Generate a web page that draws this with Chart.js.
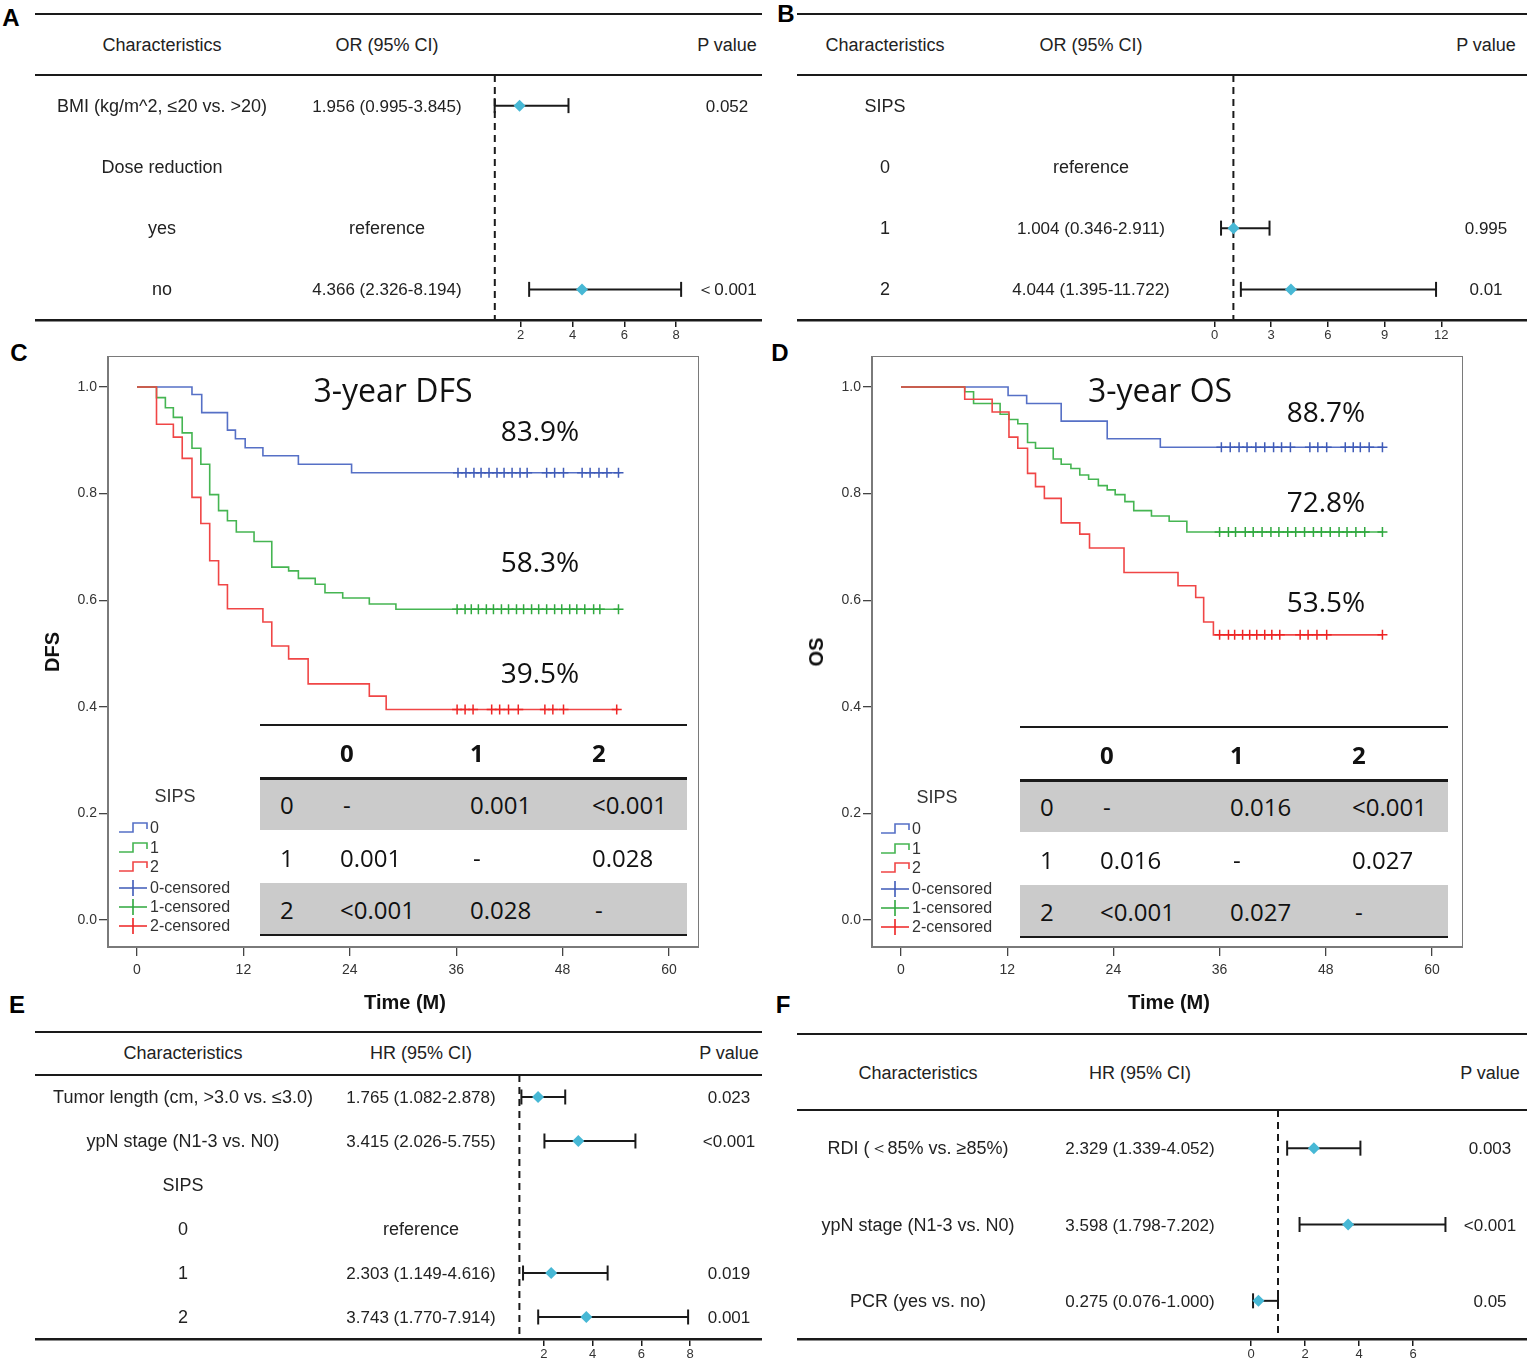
<!DOCTYPE html>
<html>
<head>
<meta charset="utf-8">
<script src="https://cdn.jsdelivr.net/npm/chart.js@4.4.1/dist/chart.umd.min.js"></script>
<style>
  html, body { margin: 0; padding: 0; background: #fff; }
  #root { position: relative; width: 1536px; height: 1367px; overflow: hidden; background: #fff;
          font-family: "Liberation Sans", Arial, sans-serif; color: #222; }
  .t { position: absolute; white-space: nowrap; line-height: 1; }
  .box { position: absolute; }
</style>
</head>
<body>
<div id="root"></div>
<script>
// ====================== DATA ======================
// Panel A (logistic regression, OR)
const aRowLabels = ["BMI (kg/m^2, \u226420 vs. >20)", "Dose reduction", "yes", "no"];
const aEstText   = ["1.956 (0.995-3.845)", "", "reference", "4.366 (2.326-8.194)"];
const aPText     = ["0.052", "", "", "\uFF1C0.001"];
const aEst = [1.956, null, null, 4.366];
const aLo  = [0.995, null, null, 2.326];
const aHi  = [3.845, null, null, 8.194];
const aTicks = [2, 4, 6, 8];

// Panel B
const bRowLabels = ["SIPS", "0", "1", "2"];
const bEstText   = ["", "reference", "1.004 (0.346-2.911)", "4.044 (1.395-11.722)"];
const bPText     = ["", "", "0.995", "0.01"];
const bEst = [null, null, 1.004, 4.044];
const bLo  = [null, null, 0.346, 1.395];
const bHi  = [null, null, 2.911, 11.722];
const bTicks = [0, 3, 6, 9, 12];

// Panel E (Cox, HR for DFS)
const eRowLabels = ["Tumor length (cm, >3.0 vs. \u22643.0)", "ypN stage (N1-3 vs. N0)", "SIPS", "0", "1", "2"];
const eEstText   = ["1.765 (1.082-2.878)", "3.415 (2.026-5.755)", "", "reference", "2.303 (1.149-4.616)", "3.743 (1.770-7.914)"];
const ePText     = ["0.023", "<0.001", "", "", "0.019", "0.001"];
const eEst = [1.765, 3.415, null, null, 2.303, 3.743];
const eLo  = [1.082, 2.026, null, null, 1.149, 1.770];
const eHi  = [2.878, 5.755, null, null, 4.616, 7.914];
const eTicks = [2, 4, 6, 8];

// Panel F (Cox, HR for OS)
const fRowLabels = ["RDI (\uFF1C85% vs. \u226585%)", "ypN stage (N1-3 vs. N0)", "PCR (yes vs. no)"];
const fEstText   = ["2.329 (1.339-4.052)", "3.598 (1.798-7.202)", "0.275 (0.076-1.000)"];
const fPText     = ["0.003", "<0.001", "0.05"];
const fEst = [2.329, 3.598, 0.275];
const fLo  = [1.339, 1.798, 0.076];
const fHi  = [4.052, 7.202, 1.000];
const fTicks = [0, 2, 4, 6];

// Panel C: DFS Kaplan-Meier by SIPS (months, survival)
const dfsMonths0 = [0, 6.2, 7.3, 10.2, 11.1, 12.2, 14.2, 18.2, 24.2, 54.5];
const dfsSurv0   = [1, 0.986, 0.952, 0.919, 0.903, 0.886, 0.871, 0.855, 0.839, 0.839];
const dfsCens0   = [36.2, 37.1, 38.0, 38.8, 39.7, 40.6, 41.4, 42.3, 43.2, 44.0, 46.2, 47.1, 48.1, 50.2, 51.1, 52.1, 53.0, 54.3];
const dfsMonths1 = [0, 2.2, 3.2, 4.1, 5.1, 6.2, 7.2, 8.2, 9.2, 10.2, 11.2, 13.2, 15.2, 17.1, 18.2, 20.1, 21.2, 23.2, 26.2, 29.2, 54.3];
const dfsSurv1   = [1, 0.980, 0.961, 0.943, 0.914, 0.885, 0.855, 0.798, 0.768, 0.749, 0.728, 0.710, 0.662, 0.655, 0.641, 0.630, 0.614, 0.604, 0.593, 0.583, 0.583];
const dfsCens1   = [36.1, 37.0, 37.7, 38.5, 39.4, 40.2, 41.1, 41.9, 42.8, 43.6, 44.5, 45.3, 46.2, 47.1, 47.9, 48.8, 49.6, 50.5, 51.5, 52.2, 54.3];
const dfsMonths2 = [0, 2.2, 4.1, 5.1, 6.2, 7.2, 8.2, 9.2, 10.2, 14.2, 15.2, 17.1, 19.3, 26.2, 28.1, 54.3];
const dfsSurv2   = [1, 0.930, 0.906, 0.866, 0.793, 0.744, 0.674, 0.629, 0.584, 0.559, 0.514, 0.490, 0.443, 0.420, 0.395, 0.395];
const dfsCens2   = [36.1, 37.0, 37.9, 40.0, 40.9, 41.9, 43.0, 46.0, 46.9, 48.1, 54.1];
const dfsPairP = [["-", "0.001", "<0.001"], ["0.001", "-", "0.028"], ["<0.001", "0.028", "-"]];

// Panel D: OS Kaplan-Meier by SIPS
const osMonths0 = [0, 12.1, 14.2, 18.1, 23.3, 29.3, 54.5];
const osSurv0   = [1, 0.984, 0.969, 0.936, 0.903, 0.887, 0.887];
const osCens0   = [36.2, 37.2, 38.2, 39.1, 40.1, 41.1, 42.1, 43.0, 44.0, 46.2, 47.1, 48.1, 50.2, 51.1, 51.9, 52.9, 54.4];
const osMonths1 = [0, 7.2, 8.2, 11.2, 12.2, 13.2, 14.3, 15.2, 17.2, 18.1, 19.2, 20.2, 21.2, 22.3, 23.3, 24.2, 25.3, 26.3, 28.3, 30.3, 32.3, 54.4];
const osSurv1   = [1, 0.991, 0.969, 0.949, 0.939, 0.931, 0.896, 0.885, 0.865, 0.855, 0.847, 0.835, 0.827, 0.815, 0.807, 0.798, 0.785, 0.768, 0.758, 0.748, 0.728, 0.728];
const osCens1   = [36.0, 37.0, 37.8, 38.9, 39.8, 40.8, 41.8, 42.7, 43.7, 44.6, 45.6, 46.6, 47.5, 48.5, 49.5, 50.4, 51.4, 52.4, 54.4];
const osMonths2 = [0, 7.2, 10.3, 12.2, 13.2, 14.3, 15.2, 16.2, 18.1, 20.2, 21.3, 25.2, 31.3, 33.3, 34.2, 35.3, 54.4];
const osSurv2   = [1, 0.977, 0.953, 0.906, 0.885, 0.838, 0.813, 0.791, 0.745, 0.724, 0.698, 0.652, 0.627, 0.605, 0.559, 0.535, 0.535];
const osCens2   = [36.0, 37.0, 37.7, 38.6, 39.4, 40.2, 41.1, 41.9, 42.8, 45.1, 46.0, 47.0, 48.1, 54.4];
const osPairP = [["-", "0.016", "<0.001"], ["0.016", "-", "0.027"], ["<0.001", "0.027", "-"]];

const sipsGroups = ["0", "1", "2"];
const kmXTicks = [0, 12, 24, 36, 48, 60];
const kmYTicks = [0, 0.2, 0.4, 0.6, 0.8, 1.0];

// ====================== STYLE / LAYOUT ======================
const SANS = '"Liberation Sans", Arial, sans-serif';
const KMFONT = '"Open Sans", "Noto Sans", sans-serif';
const INK = '#1a1a1a';
const DIAMOND = '#47b8d5';
const LINE_COL = ['#5670c6', '#45b552', '#f04646'];
const MARK_COL = ['#3f5bb8', '#2fa83e', '#ee2424'];
const root = document.getElementById('root');

function text(txt, x, y, opt = {}) {
  const d = document.createElement('div');
  d.className = 't';
  d.textContent = txt;
  d.style.left = x + 'px';
  d.style.top = y + 'px';
  const al = opt.align || 'c';
  const tx = al === 'c' ? '-50%' : (al === 'r' ? '-100%' : '0');
  d.style.transform = `translate(${tx},-50%)` + (opt.rot ? ` rotate(${opt.rot}deg)` : '');
  d.style.fontSize = (opt.size || 17) + 'px';
  d.style.fontFamily = opt.family || SANS;
  d.style.fontWeight = opt.bold ? 'bold' : 'normal';
  d.style.color = opt.color || '#222';
  d.style.zIndex = 5;
  root.appendChild(d);
  return d;
}
function rect(x, y, w, h, color, z = 4) {
  const d = document.createElement('div');
  d.className = 'box';
  Object.assign(d.style, { left: x + 'px', top: y + 'px', width: w + 'px', height: h + 'px', background: color, zIndex: z });
  root.appendChild(d);
  return d;
}
function hRule(x1, x2, y, w = 2.5) { return rect(x1, y - w / 2, x2 - x1, w, INK); }
function makeCanvas(x, y, w, h) {
  const d = document.createElement('div');
  d.className = 'box';
  Object.assign(d.style, { left: x + 'px', top: y + 'px', width: w + 'px', height: h + 'px', zIndex: 1 });
  const c = document.createElement('canvas');
  c.width = w; c.height = h;
  c.style.width = w + 'px'; c.style.height = h + 'px';
  d.appendChild(c);
  root.appendChild(d);
  return c;
}

// ---------- Forest plot ----------
function forest(o) {
  const n = o.labels.length;
  const rowY = i => i + 0.5;
  text(o.head[0], o.cols[0], o.headY, { size: 18 });
  text(o.head[1], o.cols[1], o.headY, { size: 18 });
  text(o.head[2], o.cols[2], o.headY, { size: 18 });
  const rowH = o.plotH / n;
  o.labels.forEach((lab, i) => {
    const y = o.top + rowH * (i + 0.5);
    if (lab) text(lab, o.cols[0], y, { size: 18 });
    if (o.estText[i]) text(o.estText[i], o.cols[1], y, { size: o.estText[i] === 'reference' ? 18 : 17 });
    if (o.pText[i]) text(o.pText[i], o.cols[2], y, { size: 17 });
  });
  hRule(o.left, o.left + o.width, o.topRule);
  hRule(o.left, o.left + o.width, o.top);

  const datasets = [];
  const pts = [];
  o.est.forEach((v, i) => { if (v != null) pts.push({ x: v, y: rowY(i) }); });
  datasets.push({ data: pts, showLine: false, pointStyle: 'rectRot', pointRadius: 6,
    pointBackgroundColor: DIAMOND, pointBorderColor: DIAMOND, pointBorderWidth: 0, order: 0, clip: false });
  o.est.forEach((v, i) => {
    if (v == null) return;
    datasets.push({ data: [{ x: o.lo[i], y: rowY(i) }, { x: o.hi[i], y: rowY(i) }], showLine: true,
      borderColor: INK, borderWidth: 2, pointStyle: 'line', pointRotation: 90, pointRadius: 7.5,
      pointBorderColor: INK, pointBorderWidth: 2, order: 1, clip: false });
  });
  datasets.push({ data: [{ x: 1, y: 0 }, { x: 1, y: n }], showLine: true, borderColor: INK, borderWidth: 2,
    borderDash: [7, 5], pointRadius: 0, order: 2, clip: false });

  const axisH = 30;
  const cv = makeCanvas(o.left, o.top, o.width, o.plotH + axisH);
  new Chart(cv, {
    type: 'scatter',
    data: { datasets },
    options: {
      responsive: false, animation: false, events: [],
      layout: { padding: 0, autoPadding: false },
      plugins: { legend: { display: false }, tooltip: { enabled: false } },
      scales: {
        x: { type: 'linear', position: 'bottom', min: o.min, max: o.max,
          afterBuildTicks: s => { s.ticks = o.ticks.map(v => ({ value: v })); },
          afterFit: s => { s.height = axisH; s.paddingLeft = 0; s.paddingRight = 0; },
          border: { display: true, color: INK, width: 2.5 },
          grid: { drawOnChartArea: false, drawTicks: true, tickLength: 7, color: INK, lineWidth: 1.5 },
          ticks: { font: { family: SANS, size: 13 }, color: '#333', padding: 1, maxRotation: 0, autoSkip: false } },
        y: { type: 'linear', min: 0, max: n, reverse: true, display: false }
      }
    }
  });
}

// ---------- Kaplan-Meier ----------
const boxPlugin = {
  id: 'kmBox',
  afterDraw(chart) {
    const { ctx, chartArea: a } = chart;
    ctx.save();
    ctx.strokeStyle = '#7a7a7a';
    ctx.lineWidth = 2;
    ctx.strokeRect(a.left, a.top, a.right - a.left, a.bottom - a.top);
    ctx.restore();
  }
};
function km(o) {
  const YW = 60, XH = 50;
  const cv = makeCanvas(o.boxL - YW, o.boxT, o.boxW + YW, o.boxH + XH);
  const datasets = [];
  for (let g = 0; g < 3; g++) {
    const last = o.surv[g][o.surv[g].length - 1];
    datasets.push({ data: o.cens[g].map(m => ({ x: m, y: last })), showLine: false, pointStyle: 'cross',
      pointRadius: 5, pointBorderColor: MARK_COL[g], pointBorderWidth: 1.5, order: g });
  }
  for (let g = 0; g < 3; g++) {
    datasets.push({ data: o.months[g].map((m, i) => ({ x: m, y: o.surv[g][i] })), showLine: true,
      stepped: 'before', borderColor: LINE_COL[g], borderWidth: 1.6, pointRadius: 0, order: 10 + (2 - g) });
  }
  const x0 = o.x0, pxm = o.pxPerMonth;
  new Chart(cv, {
    type: 'scatter',
    data: { datasets },
    options: {
      responsive: false, animation: false, events: [],
      layout: { padding: 0, autoPadding: false },
      plugins: { legend: { display: false }, tooltip: { enabled: false } },
      scales: {
        x: { type: 'linear', min: (o.boxL - x0) / pxm, max: (o.boxL + o.boxW - x0) / pxm,
          afterBuildTicks: s => { s.ticks = kmXTicks.map(v => ({ value: v })); },
          afterFit: s => { s.height = XH; s.paddingLeft = 0; s.paddingRight = 0; },
          border: { display: false },
          grid: { drawOnChartArea: false, drawTicks: true, tickLength: 9, color: '#444', lineWidth: 1.3 },
          ticks: { font: { family: SANS, size: 14 }, color: '#333', padding: 6, maxRotation: 0, autoSkip: false } },
        y: { type: 'linear', min: (o.y0 - (o.boxT + o.boxH)) / o.pxPerUnit, max: (o.y0 - o.boxT) / o.pxPerUnit,
          afterBuildTicks: s => { s.ticks = kmYTicks.map(v => ({ value: v })); },
          afterFit: s => { s.width = YW; s.paddingTop = 0; s.paddingBottom = 0; },
          border: { display: false },
          grid: { drawOnChartArea: false, drawTicks: true, tickLength: 9, color: '#444', lineWidth: 1.3 },
          ticks: { font: { family: SANS, size: 14 }, color: '#333', padding: 2, autoSkip: false,
            callback: v => Number(v).toFixed(1) } }
      }
    },
    plugins: [boxPlugin]
  });

  // annotations
  text(o.title, o.titleX, 390, { family: KMFONT, size: 32, color: '#111' });
  for (let g = 0; g < 3; g++) {
    const last = o.surv[g][o.surv[g].length - 1];
    text((last * 100).toFixed(1) + '%', o.pctX, o.pctY[g], { family: KMFONT, size: 28, color: '#111' });
  }
  // pairwise log-rank table
  const tL = o.tabL, tR = o.tabR, tT = o.tabT;
  const colOff = [20, 80, 210, 332];
  hRule(tL, tR, tT, 2);
  for (let c = 0; c < 3; c++)
    text(sipsGroups[c], tL + colOff[c + 1], tT + 28, { family: KMFONT, size: 24, bold: true, align: 'l', color: '#111' });
  const rowTops = [tT + 53, tT + 105, tT + 158, tT + 210];
  rect(tL, rowTops[0], tR - tL, rowTops[1] - rowTops[0], '#cbcbcb', 3);
  rect(tL, rowTops[2], tR - tL, rowTops[3] - rowTops[2], '#cbcbcb', 3);
  hRule(tL, tR, rowTops[0], 3);
  hRule(tL, tR, rowTops[3], 2.5);
  for (let r = 0; r < 3; r++) {
    const cy = (rowTops[r] + rowTops[r + 1]) / 2 + 1;
    text(sipsGroups[r], tL + colOff[0], cy, { family: KMFONT, size: 24, align: 'l', color: '#111' });
    for (let c = 0; c < 3; c++) {
      const v = o.pairP[r][c];
      text(v, tL + colOff[c + 1] + (v === '-' ? 3 : 0), cy, { family: KMFONT, size: 24, align: 'l', color: '#111' });
    }
  }
  // legend
  const lx = o.legX;
  text('SIPS', lx + 56, o.legY - 32, { size: 18, color: '#333' });
  const legY = [0, 20, 39, 60, 79, 98];
  const names = sipsGroups.concat(sipsGroups.map(s => s + '-censored'));
  names.forEach((nm, k) => {
    const y = o.legY + legY[k];
    const g = k % 3;
    const svgNS = 'http://www.w3.org/2000/svg';
    const svg = document.createElementNS(svgNS, 'svg');
    svg.setAttribute('width', 32); svg.setAttribute('height', 20);
    Object.assign(svg.style, { position: 'absolute', left: (lx - 1) + 'px', top: (y - 10) + 'px', zIndex: 5 });
    const p = document.createElementNS(svgNS, 'path');
    if (k < 3) p.setAttribute('d', 'M1 14 H15 V5 H29 V11');
    else p.setAttribute('d', 'M1 10 H29 M15 2 V18');
    p.setAttribute('fill', 'none');
    p.setAttribute('stroke', k < 3 ? LINE_COL[g] : MARK_COL[g]);
    p.setAttribute('stroke-width', '1.6');
    svg.appendChild(p);
    root.appendChild(svg);
    text(nm, lx + 31, y, { size: 16, align: 'l', color: '#333' });
  });
  // axis titles
  text(o.yTitle, o.yTitleX, 652, { size: 20, bold: true, rot: -90, color: '#111' });
  text('Time (M)', o.xTitleX, 1002, { size: 20, bold: true, color: '#111' });
}

// ====================== BUILD ======================
text('A', 11, 18, { size: 24, bold: true, color: '#000' });
text('B', 786, 14, { size: 24, bold: true, color: '#000' });
text('C', 19, 353, { size: 24, bold: true, color: '#000' });
text('D', 780, 353, { size: 24, bold: true, color: '#000' });
text('E', 17, 1005, { size: 24, bold: true, color: '#000' });
text('F', 783, 1005, { size: 24, bold: true, color: '#000' });

forest({ labels: aRowLabels, estText: aEstText, pText: aPText, est: aEst, lo: aLo, hi: aHi, ticks: aTicks,
  head: ['Characteristics', 'OR (95% CI)', 'P value'], headY: 45, cols: [162, 387, 727],
  left: 35, width: 727, top: 75, plotH: 245, topRule: 14,
  min: (35 - 468.9) / 25.9, max: (762 - 468.9) / 25.9 });

forest({ labels: bRowLabels, estText: bEstText, pText: bPText, est: bEst, lo: bLo, hi: bHi, ticks: bTicks,
  head: ['Characteristics', 'OR (95% CI)', 'P value'], headY: 45, cols: [885, 1091, 1486],
  left: 797, width: 730, top: 75, plotH: 245, topRule: 14,
  min: (797 - 1214.5) / 18.9, max: (1527 - 1214.5) / 18.9 });

forest({ labels: eRowLabels, estText: eEstText, pText: ePText, est: eEst, lo: eLo, hi: eHi, ticks: eTicks,
  head: ['Characteristics', 'HR (95% CI)', 'P value'], headY: 1053, cols: [183, 421, 729],
  left: 35, width: 727, top: 1075, plotH: 264, topRule: 1032,
  min: (35 - 495) / 24.4, max: (762 - 495) / 24.4 });

forest({ labels: fRowLabels, estText: fEstText, pText: fPText, est: fEst, lo: fLo, hi: fHi, ticks: fTicks,
  head: ['Characteristics', 'HR (95% CI)', 'P value'], headY: 1073, cols: [918, 1140, 1490],
  left: 797, width: 730, top: 1110, plotH: 229, topRule: 1034,
  min: (797 - 1251) / 27, max: (1527 - 1251) / 27 });

km({ months: [dfsMonths0, dfsMonths1, dfsMonths2], surv: [dfsSurv0, dfsSurv1, dfsSurv2],
  cens: [dfsCens0, dfsCens1, dfsCens2], pairP: dfsPairP,
  boxL: 108, boxT: 356, boxW: 591, boxH: 591, x0: 137, pxPerMonth: 8.867, y0: 920, pxPerUnit: 533,
  title: '3-year DFS', titleX: 393, pctX: 540, pctY: [430, 561, 672],
  tabL: 260, tabR: 687, tabT: 725, legX: 119, legY: 828,
  yTitle: 'DFS', yTitleX: 52, xTitleX: 405 });

km({ months: [osMonths0, osMonths1, osMonths2], surv: [osSurv0, osSurv1, osSurv2],
  cens: [osCens0, osCens1, osCens2], pairP: osPairP,
  boxL: 872, boxT: 356, boxW: 591, boxH: 591, x0: 901, pxPerMonth: 8.85, y0: 920, pxPerUnit: 533,
  title: '3-year OS', titleX: 1160, pctX: 1326, pctY: [411, 501, 601],
  tabL: 1020, tabR: 1448, tabT: 727, legX: 881, legY: 829,
  yTitle: 'OS', yTitleX: 816, xTitleX: 1169 });
</script>
</body>
</html>
